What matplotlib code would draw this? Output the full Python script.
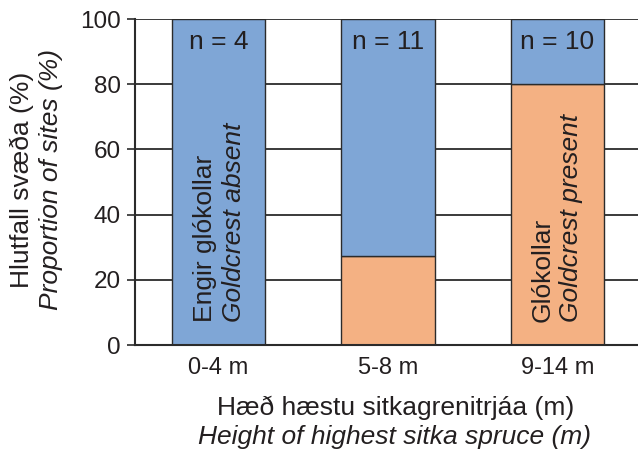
import matplotlib
matplotlib.use("Agg")
import matplotlib.pyplot as plt
import numpy as np

categories = ["0-4 m", "5-8 m", "9-14 m"]
n_sites = [4, 11, 10]
present_pct = [0.0, 27.3, 80.0]
absent_pct = [100.0, 72.7, 20.0]
y_ticks = [0, 20, 40, 60, 80, 100]

plt.rcParams['font.family'] = ['Liberation Sans', 'DejaVu Sans']

blue = "#7FA6D6"
orange = "#F4B183"
dark = "#2b2b2b"
tc = "#231f20"

fig = plt.figure(figsize=(6.38, 4.49), dpi=100)
ax = fig.add_axes([135/638, 104/449, 503/638, 326/449])

x = np.arange(len(categories))
w = 0.55
ax.bar(x, present_pct, width=w, color=orange, edgecolor=dark, linewidth=1.0, zorder=3)
ax.bar(x, absent_pct, width=w, bottom=present_pct, color=blue, edgecolor=dark, linewidth=1.0, zorder=3)

ax.set_xlim(-0.493, 2.475)
ax.set_ylim(0, 100)
ax.set_yticks(y_ticks)
ax.set_yticklabels([str(t) for t in y_ticks], fontsize=17.5, color=tc)
ax.set_xticks(x)
ax.set_xticklabels(categories, fontsize=17, color=tc)
ax.tick_params(axis='x', length=0, pad=9)
ax.tick_params(axis='y', length=6, width=1.2, color=dark, pad=4, direction='out')

for t in y_ticks:
    ax.axhline(t, color=dark, linewidth=1.3, zorder=1)

for s in ['top', 'right']:
    ax.spines[s].set_visible(False)
ax.spines['left'].set_color(dark)
ax.spines['left'].set_linewidth(1.5)
ax.spines['bottom'].set_color(dark)
ax.spines['bottom'].set_linewidth(1.5)
ax.spines['bottom'].set_zorder(4)

for i, n in enumerate(n_sites):
    ax.text(x[i], 92.8, f"n = {n}", ha='center', va='center', fontsize=19, color=tc, zorder=5)

# Rotated labels inside bars
ax.text(x[0] - 0.078, 7, "Engir glókollar", rotation=90, ha='center', va='bottom',
        fontsize=19, color=tc, zorder=5)
ax.text(x[0] + 0.09, 7, "Goldcrest absent", rotation=90, ha='center', va='bottom',
        fontsize=19, style='italic', color=tc, zorder=5)
ax.text(x[2] - 0.085, 7, "Glókollar", rotation=90, ha='center', va='bottom',
        fontsize=19, color=tc, zorder=5)
ax.text(x[2] + 0.082, 7, "Goldcrest present", rotation=90, ha='center', va='bottom',
        fontsize=19, style='italic', color=tc, zorder=5)

fig.text(396/638, 1 - 408/449, "Hæð hæstu sitkagrenitrjáa (m)", ha='center', va='center',
         fontsize=19, color=tc)
fig.text(394/638, 1 - 437/449, "Height of highest sitka spruce (m)", ha='center', va='center',
         fontsize=19, style='italic', color=tc)
fig.text(22/638, 1 - 180/449, "Hlutfall svæða (%)", rotation=90, ha='center', va='center',
         fontsize=19, color=tc)
fig.text(51/638, 1 - 180/449, "Proportion of sites (%)", rotation=90, ha='center', va='center',
         fontsize=19, style='italic', color=tc)

fig.savefig("out.png", dpi=100)
